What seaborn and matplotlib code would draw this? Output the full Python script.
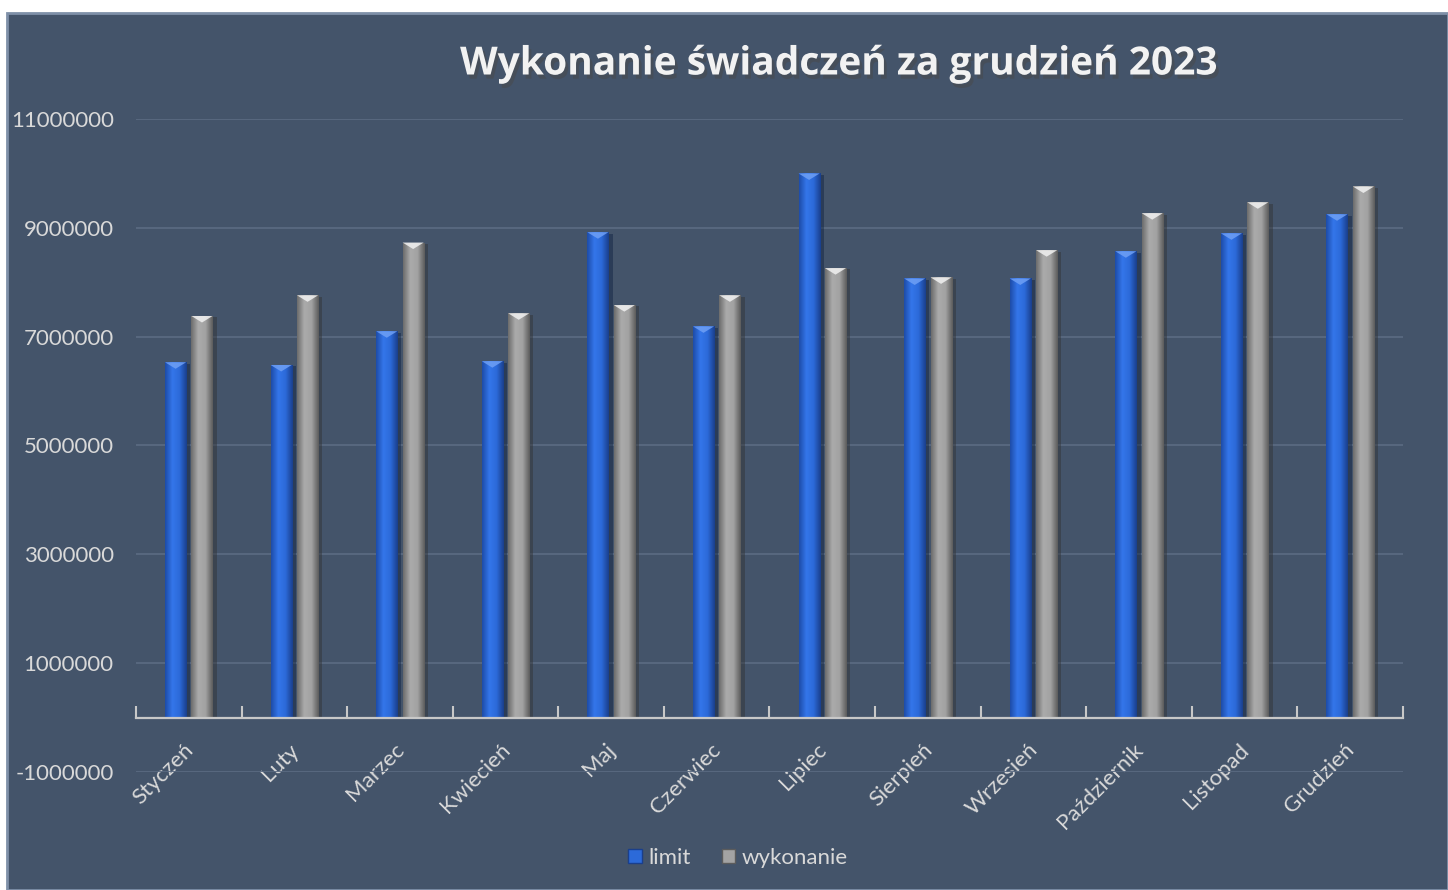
import numpy as np
import pandas as pd
import seaborn as sns
import matplotlib.pyplot as plt
import matplotlib.patheffects as pe
import matplotlib.transforms as mtransforms
from matplotlib.colors import LinearSegmentedColormap
from matplotlib.patches import Polygon, Rectangle, Patch

months = ['Styczeń', 'Luty', 'Marzec', 'Kwiecień', 'Maj', 'Czerwiec', 'Lipiec',
          'Sierpień', 'Wrzesień', 'Październik', 'Listopad', 'Grudzień']
limit = [6530000, 6480000, 7100000, 6550000, 8920000, 7190000, 10000000,
         8070000, 8070000, 8570000, 8900000, 9250000]
wykonanie = [7380000, 7760000, 8730000, 7430000, 7580000, 7760000, 8260000,
             8090000, 8590000, 9270000, 9470000, 9760000]
series = ['limit', 'wykonanie']
yticks = [-1000000, 1000000, 3000000, 5000000, 7000000, 9000000, 11000000]

df = pd.DataFrame({
    'miesiac': months * 2,
    'wartosc': limit + wykonanie,
    'seria': ['limit'] * len(months) + ['wykonanie'] * len(months),
})

BG = '#44546A'
TXT = '#D9D9D9'
blue, gray = '#2C6AD9', '#A3A3A3'

sns.set_style('dark')
plt.rcParams['font.family'] = ['Lato', 'DejaVu Sans']

fig = plt.figure(figsize=(14.48, 8.90), dpi=100, facecolor='white')
fig.patches.append(Rectangle((7 / 1448, 0), 1 - 7 / 1448, 1 - 13 / 890,
                             transform=fig.transFigure, facecolor=BG,
                             edgecolor='#7F90A8', linewidth=2, zorder=-10))
ax = fig.add_axes([136 / 1448, 118 / 890, (1403 - 136) / 1448, (772 - 119) / 890])
ax.set_facecolor('none')

sns.barplot(data=df, x='miesiac', y='wartosc', hue='seria', order=months,
            hue_order=series, palette=[blue, gray], width=0.5, gap=0.2,
            saturation=1, legend=False, linewidth=0, edgecolor='none',
            ax=ax, zorder=3)

# cylinder-like shading and bevelled tops, as in the Excel original
cmaps = [
    LinearSegmentedColormap.from_list('b', ['#1D4CA8', '#3476EA', '#2C6AD9', '#1A3F8C']),
    LinearSegmentedColormap.from_list('g', ['#6C6C6C', '#ABABAB', '#A2A2A2', '#5C5C5C']),
]
tips = ['#6FA0F5', '#F2F2F2']
grad = np.linspace(0, 1, 64).reshape(1, -1)
for cont, cmap, tip in zip(ax.containers, cmaps, tips):
    for bar in cont.patches:
        x, w, h = bar.get_x(), bar.get_width(), bar.get_height()
        bar.set_path_effects([pe.SimplePatchShadow(offset=(3, -1), alpha=0.45), pe.Normal()])
        im = ax.imshow(grad, cmap=cmap, extent=[x, x + w, 0, h], aspect='auto',
                       interpolation='bilinear', zorder=3.1)
        im.set_clip_path(bar)
        ax.add_patch(Polygon([[x, h], [x + w, h], [x + w / 2, h - 120000]],
                             closed=True, facecolor=tip, edgecolor='none',
                             alpha=0.85, zorder=3.2))

ax.set_xlim(-0.5, 11.5)
ax.set_ylim(-1000000, 11000000)
ax.set_xlabel('')
ax.set_ylabel('')

ax.set_yticks(yticks)
ax.set_yticklabels([str(v) for v in yticks])
ax.tick_params(axis='y', length=0, pad=16, labelcolor=TXT, labelsize=16)
ax.yaxis.grid(True, color='#5A6A81', linewidth=1.3)
ax.xaxis.grid(False)

ax.set_xticks(np.arange(-0.5, 12, 1), minor=True)
ax.set_xticks(range(len(months)))
ax.set_xticklabels(months)
ax.tick_params(axis='x', which='major', bottom=True, length=0, pad=16,
               labelcolor=TXT, labelsize=16, labelrotation=45)
ax.tick_params(axis='x', which='minor', bottom=True, direction='in', length=9,
               width=1.5, color='#C8C8C8')

for s in ['top', 'right', 'left']:
    ax.spines[s].set_visible(False)
ax.spines['bottom'].set_position(('data', 0))
ax.spines['bottom'].set_color('#C8C8C8')
ax.spines['bottom'].set_linewidth(1.6)
ax.spines['bottom'].set_zorder(4)

fig.text(838 / 1448, 1 - 64 / 890, 'Wykonanie świadczeń za grudzień 2023',
         ha='center', va='center', fontsize=28, fontweight='bold', color='#F2F2F2',
         family=['Open Sans', 'DejaVu Sans'],
         path_effects=[pe.SimplePatchShadow(offset=(2, -3), alpha=0.5), pe.Normal()])

handles = [Patch(facecolor=blue, edgecolor='#1A3F8C'), Patch(facecolor=gray, edgecolor='#5C5C5C')]
fig.legend(handles, series, loc='center', bbox_to_anchor=(738 / 1448, 1 - 858 / 890),
           ncol=2, frameon=False, labelcolor=TXT, fontsize=16, handlelength=0.6,
           handleheight=0.6, handletextpad=0.3, columnspacing=1.4)

shift = mtransforms.ScaledTranslation(-6 / 100, 0, fig.dpi_scale_trans)
for lab in ax.get_xticklabels():
    lab.set_ha('right')
    lab.set_rotation_mode('anchor')
    lab.set_transform(lab.get_transform() + shift)

fig.savefig('out.png', dpi=100, facecolor=fig.get_facecolor())
